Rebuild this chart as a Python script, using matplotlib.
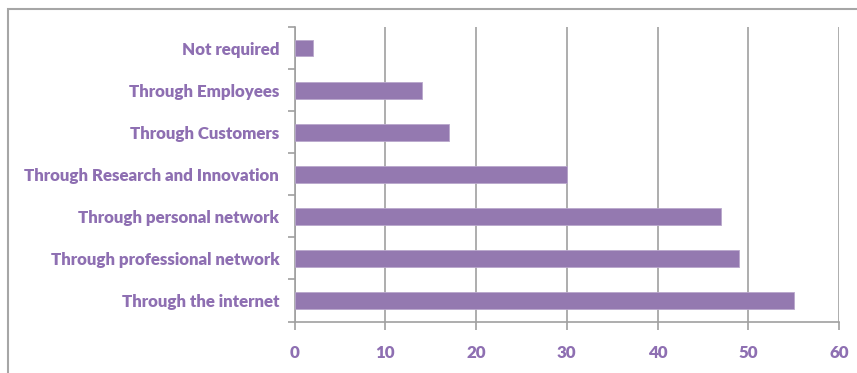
import matplotlib
matplotlib.use("Agg")
import matplotlib.pyplot as plt
from matplotlib.patches import Rectangle

categories = [
    "Through the internet",
    "Through professional network",
    "Through personal network",
    "Through Research and Innovation",
    "Through Customers",
    "Through Employees",
    "Not required",
]
values = [55, 49, 47, 30, 17, 14, 2]
x_ticks = [0, 10, 20, 30, 40, 50, 60]

bar_color = "#9479B0"
text_color = "#8E6FB2"
grid_color = "#A0A0A0"

plt.rcParams["font.family"] = ["Lato", "DejaVu Sans"]

W, H = 857, 373
left, right, top, bottom = 294.5, 839, 27, 321.5
fig = plt.figure(figsize=(W / 100, H / 100), dpi=100)
ax = fig.add_axes([left / W, 1 - bottom / H, (right - left) / W, (bottom - top) / H])

y = list(range(len(categories)))
ax.barh(y, values, height=0.4, color=bar_color, edgecolor="#B9A7CC", linewidth=0.6, zorder=3)

ax.set_xlim(0, 60)
ax.set_ylim(-0.5, len(categories) - 0.5)
ax.set_xticks(x_ticks)
ax.set_xticklabels([str(t) for t in x_ticks])
ax.set_yticks(y)
ax.set_yticklabels(categories)

# category boundary ticks on the value axis
ax.set_yticks([i - 0.5 for i in range(len(categories) + 1)], minor=True)
ax.tick_params(axis="y", which="major", length=0, pad=11)
ax.tick_params(axis="y", which="minor", length=5, color=grid_color, width=1.2)
ax.tick_params(axis="x", which="major", length=6, color=grid_color, width=1.2, pad=11)

for lbl in ax.get_yticklabels() + ax.get_xticklabels():
    lbl.set_color(text_color)
    lbl.set_fontweight("heavy")
    lbl.set_fontsize(12.2)

ax.grid(axis="x", color=grid_color, linewidth=1.2, zorder=0)
for side in ("top", "right"):
    ax.spines[side].set_visible(False)
for side in ("left", "bottom"):
    ax.spines[side].set_color(grid_color)
    ax.spines[side].set_linewidth(1.2)

# outer chart frame
fig.patches.append(Rectangle((8 / W, -0.05), 1.0, 1 - 9 / H + 0.05,
                             transform=fig.transFigure, fill=False,
                             edgecolor="#A6A6A6", linewidth=1.5))

fig.savefig("out.png", dpi=100)
